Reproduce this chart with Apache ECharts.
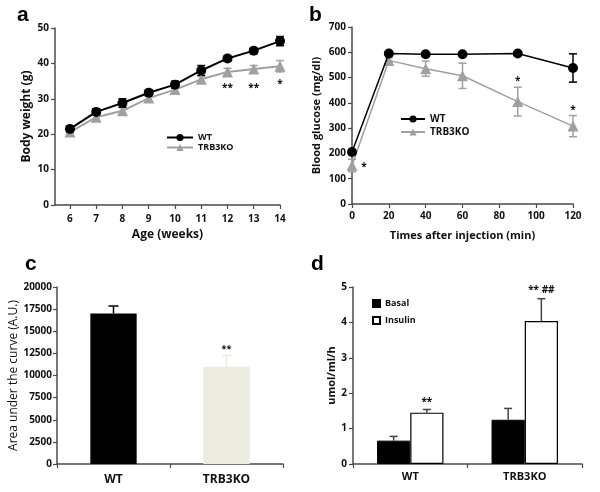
<!DOCTYPE html>
<html>
<head>
<meta charset="utf-8">
<script src="https://cdn.jsdelivr.net/npm/echarts@6/dist/echarts.min.js"></script>
<style>html,body{margin:0;padding:0;background:#fff;}#c{width:600px;height:492px;}</style>
</head>
<body>
<div id="c"></div>
<script>
// ---- Panel a: body weight ----
const weeks = [6, 7, 8, 9, 10, 11, 12, 13, 14];
const wtWeight = [21.5, 26.3, 28.8, 31.7, 34.0, 38.0, 41.4, 43.6, 46.3];
const wtWeightErr = [0.8, 0.8, 1.2, 0.9, 1.0, 1.4, 0.8, 0.8, 1.3];
const koWeight = [20.6, 24.8, 26.6, 30.2, 32.6, 35.5, 37.6, 38.4, 39.2];
const koWeightErr = [0.6, 0.8, 0.9, 0.9, 0.8, 0.9, 1.0, 1.0, 1.6];
const starsA = [[12, 33, '**'], [13, 33, '**'], [14, 34, '*']];

// ---- Panel b: blood glucose ----
const times = [0, 20, 40, 60, 90, 120];
const wtGlucose = [206, 595, 592, 592, 595, 538];
const wtGlucoseErr = [8, 8, 5, 5, 5, 56];
const koGlucose = [152, 568, 535, 507, 405, 308];
const koGlucoseErr = [25, 10, 30, 50, 57, 42];
const starsB = [[6.5, 145, '*'], [90, 484, '*'], [120, 372, '*']];

// ---- Panel c: AUC ----
const groups = ['WT', 'TRB3KO'];
const auc = [17000, 11000];
const aucErr = [850, 1250];
const starsC = [[1, 13000, '**']];

// ---- Panel d: glucose uptake ----
const basal = [0.66, 1.25];
const basalErr = [0.12, 0.32];
const insulin = [1.45, 4.04];
const insulinErr = [0.09, 0.63];
const starsD = [[0, 1.74, '**'], [1, 4.92, '** ##']];

const GRAY = '#a0a0a0';
const BEIGE = '#ecebe0';
const AX = '#4a4a4a';
const FONT = '"Open Sans", "Liberation Sans", sans-serif';

function axisCommon(extra) {
  return Object.assign({
    axisLine: { show: true, lineStyle: { color: AX, width: 1.5 } },
    axisTick: { show: true, length: 4, lineStyle: { color: AX, width: 1.2 } },
    axisLabel: { color: '#111', fontSize: 10, fontWeight: 'bold', fontFamily: FONT },
    splitLine: { show: false },
    nameTextStyle: { color: '#111', fontSize: 12, fontWeight: 'bold', fontFamily: FONT }
  }, extra);
}

function lineErr(color) {
  return function (params, api) {
    const x = api.value(0), y = api.value(1), e = api.value(2);
    const hi = api.coord([x, y + e]), lo = api.coord([x, y - e]);
    const w = 4;
    const st = { stroke: color, lineWidth: 1.5 };
    return { type: 'group', children: [
      { type: 'line', shape: { x1: hi[0], y1: hi[1], x2: lo[0], y2: lo[1] }, style: st },
      { type: 'line', shape: { x1: hi[0] - w, y1: hi[1], x2: hi[0] + w, y2: hi[1] }, style: st },
      { type: 'line', shape: { x1: lo[0] - w, y1: lo[1], x2: lo[0] + w, y2: lo[1] }, style: st }
    ] };
  };
}

function barErr(offsetFrac, colors, capW) {
  return function (params, api) {
    const c = api.value(0), v = api.value(1), e = api.value(2);
    const band = api.size([1, 0])[0];
    const base = api.coord([c, v]), top = api.coord([c, v + e]);
    const x = base[0] + offsetFrac * band;
    const st = { stroke: colors[params.dataIndex], lineWidth: 1.5 };
    return { type: 'group', children: [
      { type: 'line', shape: { x1: x, y1: base[1], x2: x, y2: top[1] }, style: st },
      { type: 'line', shape: { x1: x - capW, y1: top[1], x2: x + capW, y2: top[1] }, style: st }
    ] };
  };
}

function textMarks(list, offsetFrac, size) {
  return function (params, api) {
    const p = api.coord([api.value(0), api.value(1)]);
    let x = p[0];
    if (offsetFrac) x += offsetFrac * api.size([1, 0])[0];
    return { type: 'text', x: x, y: p[1], style: {
      text: list[params.dataIndex][2], fill: '#111', align: 'center', verticalAlign: 'middle',
      font: 'bold ' + size + 'px ' + FONT } };
  };
}

const plain = v => String(v);

const option = {
  animation: false,
  backgroundColor: '#fff',
  title: [
    { text: 'a', left: 12, top: 0, textStyle: { fontSize: 21, fontWeight: 'bold', fontFamily: 'Liberation Sans', color: '#000' } },
    { text: 'b', left: 304, top: 0, textStyle: { fontSize: 21, fontWeight: 'bold', fontFamily: 'Liberation Sans', color: '#000' } },
    { text: 'c', left: 20, top: 249, textStyle: { fontSize: 21, fontWeight: 'bold', fontFamily: 'Liberation Sans', color: '#000' } },
    { text: 'd', left: 306, top: 249, textStyle: { fontSize: 21, fontWeight: 'bold', fontFamily: 'Liberation Sans', color: '#000' } }
  ],
  legend: [
    { data: ['WT', 'TRB3KO'], orient: 'vertical', left: 166, top: 133, itemWidth: 26, itemHeight: 9, itemGap: 1, padding: 0,
      textStyle: { fontSize: 9, fontWeight: 'bold', fontFamily: FONT, color: '#111' } },
    { data: ['WT', 'TRB3KO'], orient: 'vertical', left: 400, top: 114, itemWidth: 24, itemHeight: 9, itemGap: 3, padding: 0,
      textStyle: { fontSize: 10, fontWeight: 'bold', fontFamily: FONT, color: '#111' } },
    { data: ['Basal', 'Insulin'], orient: 'vertical', left: 372, top: 299, itemWidth: 7, itemHeight: 7, itemGap: 8, padding: 0, icon: 'rect',
      textStyle: { fontSize: 9, fontWeight: 'bold', fontFamily: FONT, color: '#111' } }
  ],
  grid: [
    { left: 55, top: 28, width: 225, height: 177 },
    { left: 352, top: 27, width: 221, height: 177 },
    { left: 57, top: 287, width: 226, height: 177 },
    { left: 353, top: 287, width: 229, height: 177 }
  ],
  xAxis: [
    axisCommon({ gridIndex: 0, type: 'value', min: 5.43, max: 14,
      name: 'Age (weeks)', nameLocation: 'middle', nameGap: 24,
      axisLabel: { color: '#111', fontSize: 10, fontWeight: 'bold', fontFamily: FONT, margin: 9, customValues: weeks },
      axisTick: { show: true, length: 4, lineStyle: { color: AX, width: 1.2 }, customValues: weeks } }),
    axisCommon({ gridIndex: 1, type: 'value', min: 0, max: 120, interval: 20,
      name: 'Times after injection (min)', nameLocation: 'middle', nameGap: 26,
      nameTextStyle: { color: '#111', fontSize: 11, fontWeight: 'bold', fontFamily: FONT },
      axisLabel: { color: '#111', fontSize: 10, fontWeight: 'bold', fontFamily: FONT, margin: 7 } }),
    axisCommon({ gridIndex: 2, type: 'category', data: groups,
      axisLabel: { color: '#111', fontSize: 12, fontWeight: 'bold', fontFamily: FONT, margin: 10 } }),
    axisCommon({ gridIndex: 3, type: 'category', data: groups,
      axisLabel: { color: '#111', fontSize: 11, fontWeight: 'bold', fontFamily: FONT, margin: 7 } })
  ],
  yAxis: [
    axisCommon({ gridIndex: 0, type: 'value', min: 0, max: 50, interval: 10,
      name: 'Body weight (g)', nameLocation: 'middle', nameGap: 22,
      axisLabel: { color: '#111', fontSize: 10, fontWeight: 'bold', fontFamily: FONT, margin: 6, formatter: plain } }),
    axisCommon({ gridIndex: 1, type: 'value', min: 0, max: 700, interval: 100,
      name: 'Blood glucose (mg/dl)', nameLocation: 'middle', nameGap: 30,
      nameTextStyle: { color: '#111', fontSize: 11, fontWeight: 'bold', fontFamily: FONT },
      axisLabel: { color: '#111', fontSize: 10, fontWeight: 'bold', fontFamily: FONT, margin: 6, formatter: plain } }),
    axisCommon({ gridIndex: 2, type: 'value', min: 0, max: 20000, interval: 2500,
      name: 'Area under the curve (A.U.)', nameLocation: 'middle', nameGap: 35,
      nameTextStyle: { color: '#111', fontSize: 12, fontWeight: 'normal', fontFamily: FONT },
      axisLabel: { color: '#111', fontSize: 10, fontWeight: 'bold', fontFamily: FONT, margin: 5, formatter: plain } }),
    axisCommon({ gridIndex: 3, type: 'value', min: 0, max: 5, interval: 1,
      name: 'umol/ml/h', nameLocation: 'middle', nameGap: 15,
      nameTextStyle: { color: '#111', fontSize: 11, fontWeight: 'bold', fontFamily: FONT },
      axisLabel: { color: '#111', fontSize: 10, fontWeight: 'bold', fontFamily: FONT, margin: 6, formatter: plain } })
  ],
  series: [
    // Panel a
    { type: 'custom', name: 'errA_ko', xAxisIndex: 0, yAxisIndex: 0, z: 1, renderItem: lineErr(GRAY),
      data: weeks.map((w, i) => [w, koWeight[i], koWeightErr[i]]) },
    { type: 'custom', name: 'errA_wt', xAxisIndex: 0, yAxisIndex: 0, z: 1, renderItem: lineErr('#000'),
      data: weeks.map((w, i) => [w, wtWeight[i], wtWeightErr[i]]) },
    { type: 'line', name: 'TRB3KO', xAxisIndex: 0, yAxisIndex: 0, z: 3,
      data: weeks.map((w, i) => [w, koWeight[i]]), symbol: 'triangle', symbolSize: 11,
      lineStyle: { color: GRAY, width: 2 }, itemStyle: { color: GRAY } },
    { type: 'line', name: 'WT', xAxisIndex: 0, yAxisIndex: 0, z: 4,
      data: weeks.map((w, i) => [w, wtWeight[i]]), symbol: 'circle', symbolSize: 10,
      lineStyle: { color: '#000', width: 2 }, itemStyle: { color: '#000' } },
    { type: 'custom', name: 'starsA', xAxisIndex: 0, yAxisIndex: 0, z: 5, renderItem: textMarks(starsA, 0, 10),
      data: starsA.map(s => [s[0], s[1]]) },
    // Panel b
    { type: 'custom', name: 'errB_ko', xAxisIndex: 1, yAxisIndex: 1, z: 1, renderItem: lineErr(GRAY),
      data: times.map((t, i) => [t, koGlucose[i], koGlucoseErr[i]]) },
    { type: 'custom', name: 'errB_wt', xAxisIndex: 1, yAxisIndex: 1, z: 1, renderItem: lineErr('#000'),
      data: times.map((t, i) => [t, wtGlucose[i], wtGlucoseErr[i]]) },
    { type: 'line', name: 'TRB3KO', xAxisIndex: 1, yAxisIndex: 1, z: 3,
      data: times.map((t, i) => [t, koGlucose[i]]), symbol: 'triangle', symbolSize: 11,
      lineStyle: { color: GRAY, width: 1.5 }, itemStyle: { color: GRAY } },
    { type: 'line', name: 'WT', xAxisIndex: 1, yAxisIndex: 1, z: 4,
      data: times.map((t, i) => [t, wtGlucose[i]]), symbol: 'circle', symbolSize: 10,
      lineStyle: { color: '#000', width: 1.5 }, itemStyle: { color: '#000' } },
    { type: 'custom', name: 'starsB', xAxisIndex: 1, yAxisIndex: 1, z: 5, renderItem: textMarks(starsB, 0, 10),
      data: starsB.map(s => [s[0], s[1]]) },
    // Panel c
    { type: 'bar', name: 'AUC', xAxisIndex: 2, yAxisIndex: 2, barCategoryGap: '59%',
      data: auc.map((v, i) => ({ value: v, itemStyle: { color: i === 0 ? '#000' : BEIGE } })) },
    { type: 'custom', name: 'errC', xAxisIndex: 2, yAxisIndex: 2, z: 3, renderItem: barErr(0, ['#000', BEIGE], 5),
      data: auc.map((v, i) => [i, v, aucErr[i]]) },
    { type: 'custom', name: 'starsC', xAxisIndex: 2, yAxisIndex: 2, z: 5, renderItem: textMarks(starsC, 0, 9),
      data: starsC.map(s => [s[0], s[1]]) },
    // Panel d
    { type: 'bar', name: 'Basal', xAxisIndex: 3, yAxisIndex: 3, barCategoryGap: '42%', barGap: '0%',
      data: basal, itemStyle: { color: '#000', borderColor: '#000', borderWidth: 1 } },
    { type: 'bar', name: 'Insulin', xAxisIndex: 3, yAxisIndex: 3, barCategoryGap: '42%', barGap: '0%',
      data: insulin, itemStyle: { color: '#fff', borderColor: '#000', borderWidth: 1.2 } },
    { type: 'custom', name: 'errD_b', xAxisIndex: 3, yAxisIndex: 3, z: 3, renderItem: barErr(-0.145, ['#444', '#444'], 4),
      data: basal.map((v, i) => [i, v, basalErr[i]]) },
    { type: 'custom', name: 'errD_i', xAxisIndex: 3, yAxisIndex: 3, z: 3, renderItem: barErr(0.145, ['#444', '#444'], 4),
      data: insulin.map((v, i) => [i, v, insulinErr[i]]) },
    { type: 'custom', name: 'starsD', xAxisIndex: 3, yAxisIndex: 3, z: 5, renderItem: textMarks(starsD, 0.145, 10),
      data: starsD.map(s => [s[0], s[1]]) }
  ]
};

const chart = echarts.init(document.getElementById('c'), null, { renderer: 'canvas' });
chart.setOption(option);
</script>
</body>
</html>
